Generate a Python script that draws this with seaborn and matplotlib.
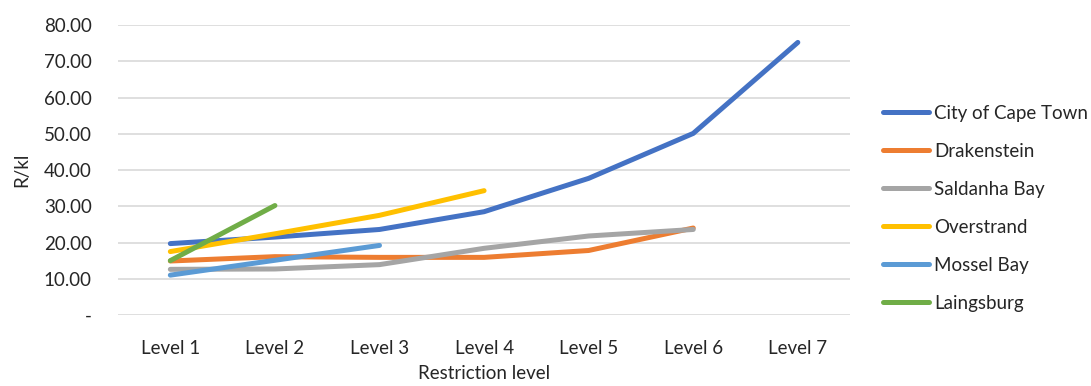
import numpy as np
import pandas as pd
import matplotlib
matplotlib.use("Agg")
import matplotlib.pyplot as plt
import seaborn as sns

levels = ["Level 1", "Level 2", "Level 3", "Level 4", "Level 5", "Level 6", "Level 7"]
nan = np.nan
cape_town = [19.7, 21.5, 23.6, 28.5, 37.7, 50.1, 75.2]
drakenstein = [14.9, 16.1, 15.9, 15.9, 17.8, 24.0, nan]
saldanha_bay = [12.6, 12.7, 13.9, 18.4, 21.8, 23.6, nan]
overstrand = [17.5, 22.4, 27.5, 34.3, nan, nan, nan]
mossel_bay = [11.0, 15.1, 19.2, nan, nan, nan, nan]
laingsburg = [15.0, 30.2, nan, nan, nan, nan, nan]

series = {
    "City of Cape Town": cape_town,
    "Drakenstein": drakenstein,
    "Saldanha Bay": saldanha_bay,
    "Overstrand": overstrand,
    "Mossel Bay": mossel_bay,
    "Laingsburg": laingsburg,
}
colors = ["#4472C4", "#ED7D31", "#A5A5A5", "#FFC000", "#5B9BD5", "#70AD47"]

rows = []
for name, vals in series.items():
    for i, v in enumerate(vals):
        if not np.isnan(v):
            rows.append({"pos": i, "level": levels[i], "municipality": name, "tariff": v})
df = pd.DataFrame(rows)

sns.set_theme(style="white")
plt.rcParams["font.family"] = ["Lato", "DejaVu Sans"]
FS = 13.5

fig = plt.figure(figsize=(10.91, 3.86), dpi=100)
ax = fig.add_axes([0.1082, 0.1839, 0.671, 0.7513])

sns.lineplot(data=df, x="pos", y="tariff", hue="municipality",
             hue_order=list(series.keys()), palette=colors,
             linewidth=3.6, sort=False, ax=ax, legend=True)
for line in ax.get_lines():
    line.set_solid_capstyle("round")
    line.set_solid_joinstyle("round")

ax.set_xlim(-0.5, 6.5)
ax.set_ylim(0, 80)
ax.set_yticks(np.arange(0, 81, 10))
ax.set_yticklabels(["-"] + [f"{v:.2f}" for v in range(10, 81, 10)])
ax.set_xticks(range(len(levels)))
ax.set_xticklabels(levels)
ax.grid(axis="y", color="#D9D9D9", linewidth=1.2)
ax.grid(axis="x", visible=False)
ax.set_axisbelow(True)
for s in ["top", "right", "left", "bottom"]:
    ax.spines[s].set_visible(False)
ax.tick_params(axis="both", length=0, labelsize=FS, colors="#262626")
ax.tick_params(axis="y", pad=19)
ax.tick_params(axis="x", pad=18)
ax.set_xlabel("Restriction level", fontsize=FS, color="#262626", labelpad=6)
ax.set_ylabel("R/kl", fontsize=FS, color="#262626", labelpad=10)

handles, labels = ax.get_legend_handles_labels()
ax.legend(handles, labels, loc="center left", bbox_to_anchor=(1.035, 0.369),
          frameon=False, fontsize=FS, handlelength=2.45, handletextpad=0.25,
          labelspacing=1.12, borderaxespad=0)
for h in ax.get_legend().get_lines():
    h.set_linewidth(3.6)
    h.set_solid_capstyle("round")

fig.savefig("out.png", dpi=100)
